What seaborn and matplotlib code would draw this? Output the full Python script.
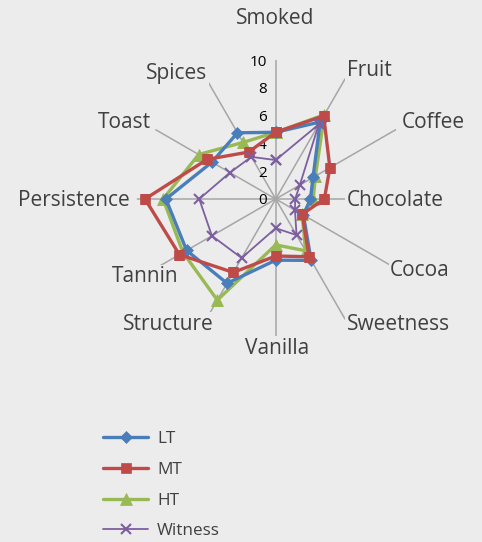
import numpy as np
import matplotlib
matplotlib.use("Agg")
import matplotlib.pyplot as plt
import seaborn as sns

# attributes around the radar, clockwise from the top
categories = ["Smoked", "Fruit", "Coffee", "Chocolate", "Cocoa", "Sweetness",
              "Vanilla", "Structure", "Tannin", "Persistence", "Toast", "Spices"]

lt_scores = [4.8, 6.4, 3.1, 2.5, 2.3, 5.1, 4.4, 7.0, 7.4, 7.9, 5.3, 5.5]
mt_scores = [4.8, 6.9, 4.5, 3.5, 2.2, 4.8, 4.1, 6.1, 8.0, 9.4, 5.7, 3.9]
ht_scores = [4.8, 7.0, 3.3, 2.7, 2.2, 4.3, 3.3, 8.4, 7.7, 8.1, 6.4, 4.7]
witness_scores = [2.8, 6.2, 2.0, 1.4, 1.6, 3.0, 2.1, 4.9, 5.3, 5.5, 3.8, 3.5]

r_ticks = [0, 2, 4, 6, 8, 10]

BG = "#ececec"
TXT = "#404040"

sns.set_theme(style="white")
plt.rcParams["font.family"] = ["Open Sans", "DejaVu Sans"]

W, H = 482, 542
fig = plt.figure(figsize=(W / 100, H / 100), dpi=100, facecolor=BG)
cx, cy, rad = 275.7, 199, 139
ax = fig.add_axes([(cx - rad) / W, 1 - (cy + rad) / H, 2 * rad / W, 2 * rad / H],
                  projection="polar", facecolor=BG)
ax.set_theta_zero_location("N")
ax.set_theta_direction(-1)

angles = np.deg2rad(np.arange(len(categories)) * 360 / len(categories))
theta = np.append(angles, angles[0] + 2 * np.pi)

series = [
    ("HT", ht_scores, "#98b954", "^", 8, 2.4, 2),
    ("LT", lt_scores, "#4a7ebb", "D", 6.5, 2.4, 3),
    ("MT", mt_scores, "#be4b48", "s", 7, 2.4, 4),
    ("Witness", witness_scores, "#7d5fa0", "x", 7, 1.3, 5),
]
handles = {}
for name, vals, col, mk, ms, lw, z in series:
    r = np.append(vals, vals[0])
    sns.lineplot(x=theta, y=r, ax=ax, color=col, marker=mk, markersize=ms,
                 linewidth=lw, sort=False, zorder=z,
                 markeredgecolor=col, markeredgewidth=1.5 if mk == "x" else 0.5)
    handles[name] = ax.lines[-1]

ax.set_ylim(0, 10)
ax.set_thetagrids(np.rad2deg(angles), labels=[""] * len(categories))
ax.set_yticks(r_ticks)
ax.set_yticklabels([])
ax.yaxis.grid(False)
ax.xaxis.grid(True, color="#a6a6a6", linewidth=1.1)
ax.spines["polar"].set_visible(False)

# radial tick numbers, left of the top spoke
for v in r_ticks:
    ax.annotate(str(v), xy=(0, v), xytext=(-9, -2), textcoords="offset pixels",
                ha="right", va="center", fontsize=11, color="black")

# category labels (figure pixel positions)
label_pos = {
    "Smoked": (275, 19), "Fruit": (369, 71), "Coffee": (433, 122),
    "Chocolate": (395, 200), "Cocoa": (420, 270), "Sweetness": (398, 324),
    "Vanilla": (277, 348), "Structure": (168, 324), "Tannin": (145, 277),
    "Persistence": (74, 200), "Toast": (124, 122), "Spices": (177, 73),
}
for name in categories:
    x, y = label_pos[name]
    fig.text(x / W, 1 - y / H, name, ha="center", va="center", fontsize=15,
             color=TXT, bbox=dict(facecolor=BG, edgecolor="none", pad=1))

order = ["LT", "MT", "HT", "Witness"]
fig.legend([handles[n] for n in order], order, loc="upper left",
           bbox_to_anchor=(88 / W, 1 - 416 / H), frameon=False, fontsize=12.3,
           handlelength=2.6, labelspacing=0.86, handletextpad=0.55,
           labelcolor=TXT)

ax.set_xlabel("")
ax.set_ylabel("")
fig.savefig("out.png", dpi=100, facecolor=BG)
